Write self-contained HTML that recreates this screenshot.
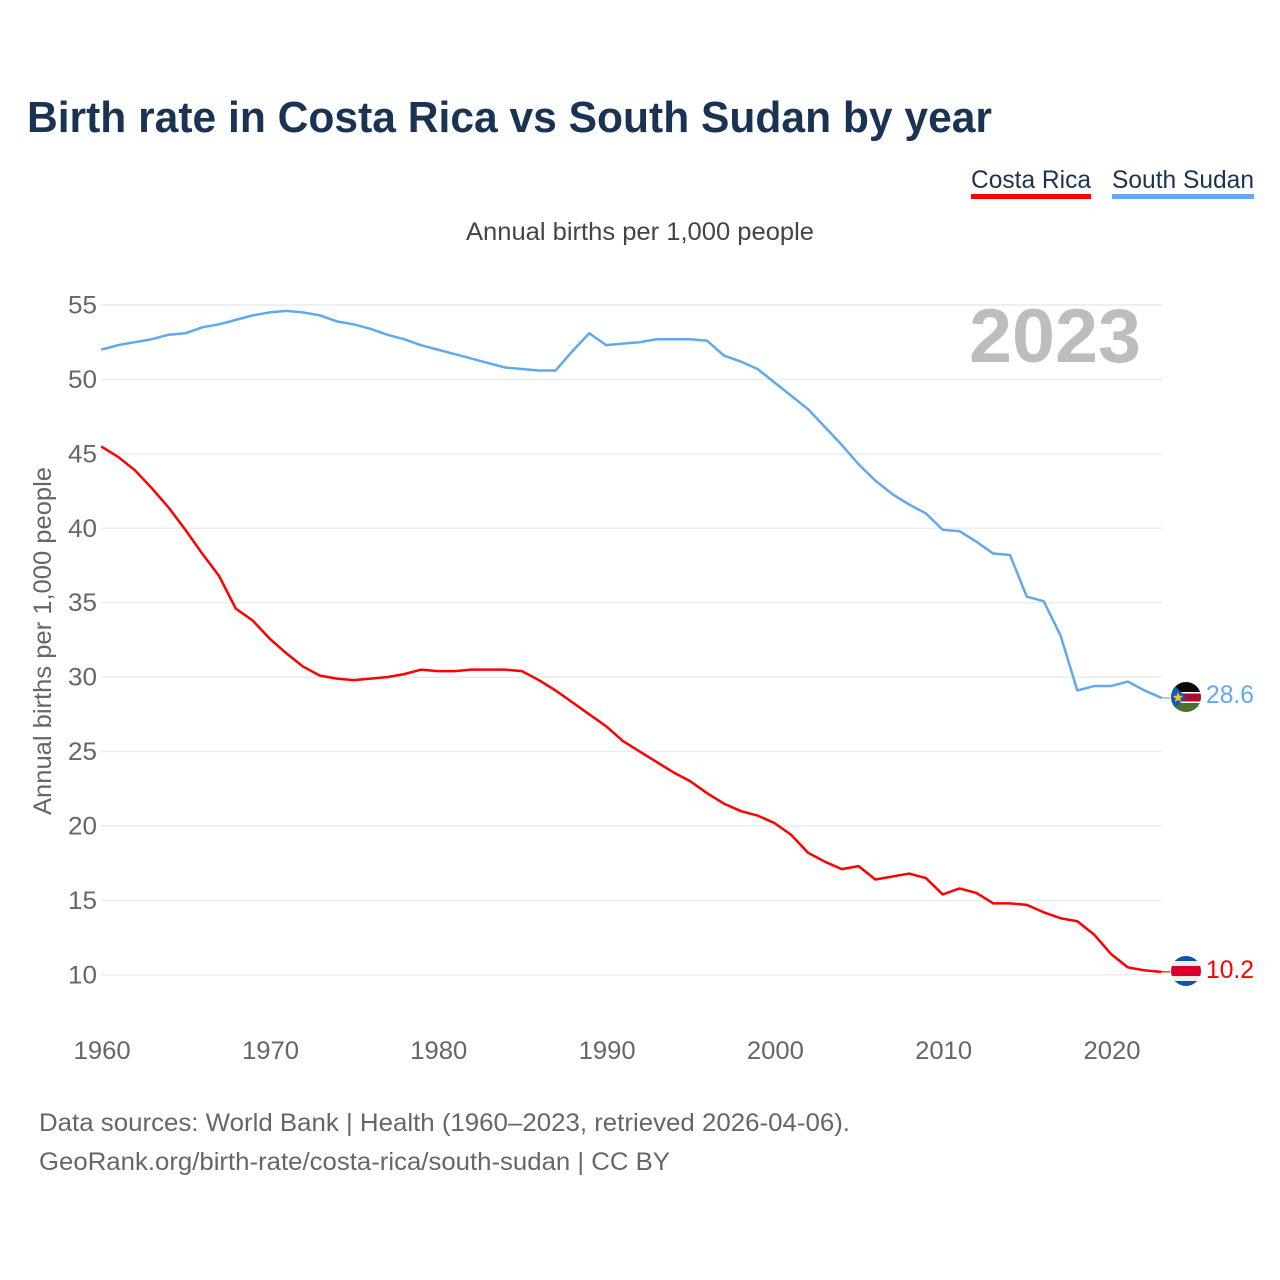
<!DOCTYPE html>
<html lang="en">
<head>
<meta charset="utf-8">
<title>Birth rate in Costa Rica vs South Sudan by year</title>
<style>
html,body{margin:0;padding:0;background:#fff;width:1280px;height:1280px;overflow:hidden}
svg{display:block;font-family:"Liberation Sans",sans-serif}
</style>
</head>
<body>
<svg id="chart" width="1280" height="1280" viewBox="0 0 1280 1280" xmlns="http://www.w3.org/2000/svg">
  <defs>
    <clipPath id="clip-ss"><circle cx="1186" cy="697" r="15"/></clipPath>
    <clipPath id="clip-cr"><circle cx="1186" cy="971" r="15"/></clipPath>
  </defs>
  <rect x="0" y="0" width="1280" height="1280" fill="#fff"/>
  <text x="27" y="132" font-size="44" font-weight="700" fill="#1a3352" textLength="965" lengthAdjust="spacingAndGlyphs">Birth rate in Costa Rica vs South Sudan by year</text>

  <g>
    <text x="971" y="188" font-size="25" fill="#1a3352" textLength="120" lengthAdjust="spacingAndGlyphs">Costa Rica</text>
    <rect x="971" y="194" width="120" height="5" fill="#ff0000"/>
  </g>
  <g>
    <text x="1112" y="188" font-size="25" fill="#1a3352" textLength="142" lengthAdjust="spacingAndGlyphs">South Sudan</text>
    <rect x="1112" y="194" width="142" height="5" fill="#62a8ee"/>
  </g>

  <text x="466" y="240" font-size="25" fill="#444" textLength="348" lengthAdjust="spacingAndGlyphs">Annual births per 1,000 people</text>
  <text transform="translate(51,815) rotate(-90)" x="0" y="0" font-size="25" fill="#666" textLength="348" lengthAdjust="spacingAndGlyphs">Annual births per 1,000 people</text>

  <g id="grid"></g>
  <g id="y-ticks"></g>
  <g id="x-ticks"></g>

  <text x="969" y="362" font-size="76" font-weight="700" fill="#bdbdbd" textLength="172" lengthAdjust="spacingAndGlyphs">2023</text>

  <g id="series"></g>

  <g clip-path="url(#clip-ss)">
    <rect x="1171" y="682" width="30" height="10" fill="#0b0b0b"/>
    <rect x="1171" y="692" width="30" height="11" fill="#fff"/>
    <rect x="1171" y="693.5" width="30" height="8" fill="#b00d2e"/>
    <rect x="1171" y="703" width="30" height="14" fill="#4e6f2f"/>
    <polygon points="1170,681 1170,713 1186,697" fill="#0f5db5"/>
    <polygon points="1178,692 1179.4,695.6 1183,696 1180.2,698.4 1181,702 1178,700 1175,702 1175.8,698.4 1173,696 1176.6,695.6" fill="#f4c430"/>
  </g>
  <g clip-path="url(#clip-cr)">
    <rect x="1171" y="956" width="30" height="30" fill="#eee"/>
    <rect x="1171" y="956" width="30" height="5" fill="#0c55ad"/>
    <rect x="1171" y="981" width="30" height="5" fill="#0c55ad"/>
    <rect x="1171" y="966" width="30" height="10" fill="#d9002c"/>
  </g>

  <g id="end-labels"></g>

  <text x="39" y="1131" font-size="25" fill="#666" textLength="811" lengthAdjust="spacingAndGlyphs">Data sources: World Bank | Health (1960–2023, retrieved 2026-04-06).</text>
  <text x="39" y="1170" font-size="25" fill="#666" textLength="631" lengthAdjust="spacingAndGlyphs">GeoRank.org/birth-rate/costa-rica/south-sudan | CC BY</text>
</svg>
<script>
const firstYear = 1960;
const yTickValues = [10, 15, 20, 25, 30, 35, 40, 45, 50, 55];
const xTickValues = [1960, 1970, 1980, 1990, 2000, 2010, 2020];
const costaRica = [45.5,44.8,43.9,42.7,41.4,39.9,38.3,36.8,34.6,33.8,32.6,31.6,30.7,30.1,29.9,29.8,29.9,30.0,30.2,30.5,30.4,30.4,30.5,30.5,30.5,30.4,29.8,29.1,28.3,27.5,26.7,25.7,25.0,24.3,23.6,23.0,22.2,21.5,21.0,20.7,20.2,19.4,18.2,17.6,17.1,17.3,16.4,16.6,16.8,16.5,15.4,15.8,15.5,14.8,14.8,14.7,14.2,13.8,13.6,12.7,11.4,10.5,10.3,10.2];
const southSudan = [52.0,52.3,52.5,52.7,53.0,53.1,53.5,53.7,54.0,54.3,54.5,54.6,54.5,54.3,53.9,53.7,53.4,53.0,52.7,52.3,52.0,51.7,51.4,51.1,50.8,50.7,50.6,50.6,51.9,53.1,52.3,52.4,52.5,52.7,52.7,52.7,52.6,51.6,51.2,50.7,49.8,48.9,48.0,46.8,45.6,44.3,43.2,42.3,41.6,41.0,39.9,39.8,39.1,38.3,38.2,35.4,35.1,32.8,29.1,29.4,29.4,29.7,29.1,28.6];

const NS = 'http://www.w3.org/2000/svg';
const xScale = function (year) { return 101.2 + (year - 1960) * 16.83; };
const yScale = function (v) { return 974.8 - (v - 10) * 14.885; };
const chartRight = 1162;

function make(tag, parent, attrs, text) {
  const el = document.createElementNS(NS, tag);
  for (const k in attrs) el.setAttribute(k, attrs[k]);
  if (text !== undefined) el.textContent = text;
  parent.appendChild(el);
  return el;
}

const gridGroup = document.getElementById('grid');
const yTickGroup = document.getElementById('y-ticks');
yTickValues.forEach(function (v) {
  const line = make('line', gridGroup, { x1: 101, x2: chartRight, y1: yScale(v), y2: yScale(v), stroke: '#ececec', 'stroke-width': 1.5 });
  
  
  const label = make('text', yTickGroup, { x: 97, y: yScale(v) + 8.5, 'text-anchor': 'end', 'font-size': 25, fill: '#666', textLength: 29, lengthAdjust: 'spacingAndGlyphs' }, String(v));
  
  
});

const xTickGroup = document.getElementById('x-ticks');
xTickValues.forEach(function (yr) {
  const label = make('text', xTickGroup, { x: xScale(yr) + 1, y: 1059, 'text-anchor': 'middle', 'font-size': 25, fill: '#666', textLength: 57, lengthAdjust: 'spacingAndGlyphs' }, String(yr));
  
  
});

function drawSeries(values, color, name, valueLabelY) {
  const group = document.getElementById('series');
  const pts = values.map(function (v, i) {
    return xScale(firstYear + i).toFixed(2) + ',' + yScale(v).toFixed(2);
  }).join(' ');
  const line = make('polyline', group, { points: pts, fill: 'none', stroke: color, 'stroke-width': 2.5, 'stroke-linejoin': 'round' });
  
  
  const last = values[values.length - 1];
  const lastX = xScale(firstYear + values.length - 1);
  const conn = make('line', group, { x1: lastX, x2: 1170, y1: yScale(last), y2: yScale(last), stroke: color, 'stroke-width': 1.2 });
  
  
  const endLabels = document.getElementById('end-labels');
  const txt = make('text', endLabels, { x: 1206, y: valueLabelY, 'font-size': 25, fill: color, textLength: 48, lengthAdjust: 'spacingAndGlyphs' }, last.toFixed(1));
  
  
}

drawSeries(southSudan, '#62a8ee', 'south-sudan', 703);
drawSeries(costaRica, '#ff0000', 'costa-rica', 978);
</script>
</body>
</html>
